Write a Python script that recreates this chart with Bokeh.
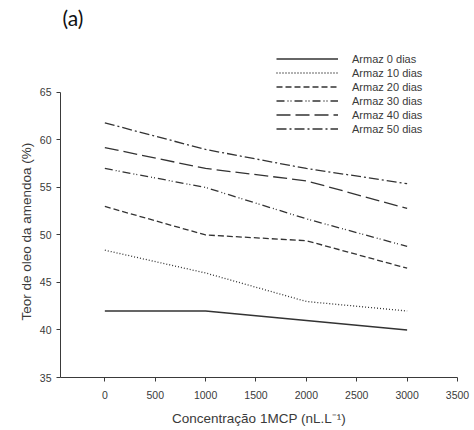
from bokeh.plotting import figure
from bokeh.models import Legend, LegendItem, Label, FixedTicker, Range1d, Title
from bokeh.embed import file_html
from bokeh.resources import INLINE

concentracao = [0, 1000, 2000, 3000]
armaz_0 = [42.0, 42.0, 41.0, 40.0]
armaz_10 = [48.4, 46.0, 43.0, 42.0]
armaz_20 = [53.0, 50.0, 49.4, 46.5]
armaz_30 = [57.0, 55.0, 51.7, 48.8]
armaz_40 = [59.2, 57.0, 55.7, 52.8]
armaz_50 = [61.8, 59.0, 57.0, 55.4]
series_labels = ["Armaz 0 dias", "Armaz 10 dias", "Armaz 20 dias",
                 "Armaz 30 dias", "Armaz 40 dias", "Armaz 50 dias"]
x_ticks = [0, 500, 1000, 1500, 2000, 2500, 3000, 3500]
y_ticks = [35, 40, 45, 50, 55, 60, 65]

series = [armaz_0, armaz_10, armaz_20, armaz_30, armaz_40, armaz_50]
dashes = ["solid", "1 2", "6 3", "8 3 1 2 1 3", "14 5", "10 3 2 3"]

FONT = "Liberation Sans"
INK = "#3a3a3a"

# frame spans the full top so legend and panel label are not clipped;
# the y axis itself is bounded to 35..65
p = figure(width=474, height=430, output_backend="svg", toolbar_location=None,
           x_range=Range1d(-440, 3500), y_range=Range1d(35, 74.68),
           min_border_left=60, min_border_right=17, min_border_top=0,
           min_border_bottom=53)
p.outline_line_color = None
p.grid.visible = False
p.background_fill_color = "white"

items = []
for vals, lab, d in zip(series, series_labels, dashes):
    r = p.line(concentracao, vals, line_color="#333333", line_width=1.3, line_dash=d)
    items.append(LegendItem(label=lab, renderers=[r]))

for ax in (p.xaxis[0], p.yaxis[0]):
    ax.axis_line_color = INK
    ax.major_tick_line_color = INK
    ax.minor_tick_line_color = None
    ax.major_tick_in = 0
    ax.major_tick_out = 4
    ax.major_label_text_font = FONT
    ax.major_label_text_font_size = "10.5px"
    ax.major_label_text_color = INK
    ax.axis_label_text_font = FONT
    ax.axis_label_text_font_size = "13.5px"
    ax.axis_label_text_font_style = "normal"
    ax.axis_label_text_color = INK

p.yaxis.bounds = (35, 65)
p.xaxis.ticker = FixedTicker(ticks=x_ticks)
p.yaxis.ticker = FixedTicker(ticks=y_ticks)
p.xaxis.axis_label = "Concentração 1MCP (nL.L⁻¹)"
p.xaxis.major_label_standoff = 9
p.yaxis.major_label_standoff = 5
p.xaxis.axis_label_standoff = 9

ytitle = Title(text="Teor de oleo da amendoa (%)", align="left", offset=57,
               text_font=FONT, text_font_size="13.5px", text_font_style="normal",
               text_color=INK, standoff=6)
p.add_layout(ytitle, "left")

legend = Legend(items=items, location=(216, 242), orientation="vertical")
legend.border_line_color = None
legend.background_fill_alpha = 0
legend.label_text_font = FONT
legend.label_text_font_size = "11px"
legend.label_text_color = INK
legend.glyph_width = 62
legend.glyph_height = 13
legend.label_height = 13
legend.spacing = 1
legend.label_standoff = 14
legend.padding = 4
legend.margin = 0
p.add_layout(legend, "center")

panel = Label(x=2, y=348, x_units="screen", y_units="screen", text="(a)",
              text_font="Lato", text_font_size="21px", text_color="#111111")
p.add_layout(panel)

open("out.html", "w").write(file_html(p, INLINE))
